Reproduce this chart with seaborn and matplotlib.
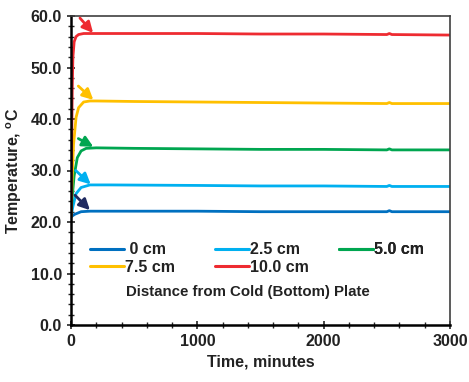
import numpy as np
import pandas as pd
import matplotlib
matplotlib.use("Agg")
import matplotlib.pyplot as plt
import seaborn as sns
from matplotlib.ticker import MultipleLocator, FormatStrFormatter
from matplotlib.lines import Line2D

sns.set_style("white")
plt.rcParams['font.family'] = ['Liberation Sans', 'DejaVu Sans']
plt.rcParams['font.weight'] = 'bold'
plt.rcParams['mathtext.fontset'] = 'custom'
plt.rcParams['mathtext.rm'] = 'Liberation Sans:bold'
plt.rcParams['mathtext.bf'] = 'Liberation Sans:bold'

# Data
t_red = [0, 5, 10, 15, 25, 40, 60, 100, 200, 500, 1000, 1500, 2000, 2500, 2520, 2540, 3000]
v_red = [21, 35, 46, 52, 55, 56.0, 56.4, 56.6, 56.6, 56.6, 56.6, 56.5, 56.5, 56.4, 56.6, 56.4, 56.3]

t_yel = [0, 10, 20, 40, 60, 100, 150, 200, 500, 1000, 1500, 2000, 2500, 2520, 2540, 3000]
v_yel = [21, 29, 35, 40.3, 42.2, 43.3, 43.5, 43.5, 43.4, 43.3, 43.2, 43.1, 43.0, 43.2, 43.0, 43.0]

t_grn = [0, 10, 25, 50, 80, 120, 200, 500, 1000, 1500, 2000, 2500, 2520, 2540, 3000]
v_grn = [21, 25, 29, 32.5, 33.8, 34.3, 34.4, 34.3, 34.2, 34.1, 34.1, 34.0, 34.2, 34.0, 34.0]

t_lbl = [0, 15, 40, 80, 150, 300, 1000, 1500, 2000, 2500, 2520, 2540, 3000]
v_lbl = [21, 23, 25.5, 26.7, 27.2, 27.2, 27.1, 27.0, 27.0, 26.9, 27.1, 26.9, 26.9]

t_dbl = [0, 30, 80, 150, 500, 1000, 1500, 2000, 2500, 2520, 2540, 3000]
v_dbl = [21, 21.5, 22.0, 22.1, 22.1, 22.1, 22.0, 22.0, 22.0, 22.2, 22.0, 22.0]

labels = [" 0 cm", "2.5 cm", "5.0 cm", "7.5 cm", "10.0 cm"]
colors = ["#0070C0", "#00B0F0", "#00A650", "#FFC000", "#EE2B31"]
series = [(t_dbl, v_dbl), (t_lbl, v_lbl), (t_grn, v_grn), (t_yel, v_yel), (t_red, v_red)]

# arrow annotations: (start_x, start_y, end_x, end_y)
arrow_colors = ["#1F2A60", "#00B0F0", "#00A650", "#FFC000", "#EE2B31"]
arrows = [(32, 25.2, 150, 22.3), (37, 30.0, 156, 27.3), (58, 36.2, 177, 34.6),
          (58, 46.4, 177, 43.7), (71, 59.6, 175, 56.7)]

frames = []
for lab, (t, v) in zip(labels, series):
    frames.append(pd.DataFrame({"time": t, "temp": v, "dist": lab}))
df = pd.concat(frames, ignore_index=True)

fig = plt.figure(figsize=(4.69, 3.82), dpi=100)
ax = fig.add_axes([71/469, 1 - 325/382, (450-71)/469, (325-16)/382])

sns.lineplot(data=df, x="time", y="temp", hue="dist", hue_order=labels,
             palette=colors, linewidth=2.0, ax=ax, legend=False, sort=False)

for (x0, y0, x1, y1), c in zip(arrows, arrow_colors):
    ax.annotate("", xy=(x1, y1), xytext=(x0, y0),
                arrowprops=dict(arrowstyle="-|>", color=c, lw=2.0,
                                mutation_scale=16, shrinkA=0, shrinkB=0))

ax.set_xlim(0, 3000)
ax.set_ylim(0, 60)
ax.xaxis.set_major_locator(MultipleLocator(1000))
ax.xaxis.set_minor_locator(MultipleLocator(200))
ax.yaxis.set_major_locator(MultipleLocator(10))
ax.yaxis.set_minor_locator(MultipleLocator(2))
ax.yaxis.set_major_formatter(FormatStrFormatter("%.1f"))
ax.tick_params(axis="both", which="major", direction="inout", length=6, width=1.2,
               labelsize=11.5, bottom=True, left=True, top=False, right=False,
               labelcolor="#222222")
ax.tick_params(axis="both", which="minor", direction="inout", length=4, width=1.0,
               bottom=True, left=True, top=False, right=False)
for lab in ax.get_xticklabels() + ax.get_yticklabels():
    lab.set_fontweight("bold")

for s in ["left", "bottom"]:
    ax.spines[s].set_color("black")
    ax.spines[s].set_linewidth(1.8)
for s in ["top", "right"]:
    ax.spines[s].set_color("#404040")
    ax.spines[s].set_linewidth(1.2)

ax.set_xlabel("Time, minutes", fontsize=11.5, fontweight="bold", labelpad=4, color="#222222")
ax.set_ylabel("Temperature, $^{\\mathbf{o}}$C", fontsize=11.5, fontweight="bold",
              labelpad=5, color="#222222")

# legend laid out row-wise in three columns
handles = [Line2D([0], [0], color=c, lw=2.2) for c in colors]
col_groups = [[0, 3], [1, 4], [2]]
col_x = [(90 - 71) / 379, (215 - 71) / 379, (339 - 71) / 379]
for grp, xx in zip(col_groups, col_x):
    leg = ax.legend([handles[i] for i in grp], [labels[i] for i in grp],
                    loc="upper left", bbox_to_anchor=(xx, 0.268), frameon=False,
                    fontsize=11.5, handlelength=2.1, handletextpad=0.1,
                    labelspacing=0.15, borderaxespad=0, borderpad=0)
    for txt in leg.get_texts():
        txt.set_fontweight("bold")
        txt.set_color("#222222")
    ax.add_artist(leg)

ax.text(0.467, 0.108, "Distance from Cold (Bottom) Plate", transform=ax.transAxes,
        ha="center", va="center", fontsize=10.8, fontweight="bold", color="#222222")

fig.savefig("out.png", dpi=100)
